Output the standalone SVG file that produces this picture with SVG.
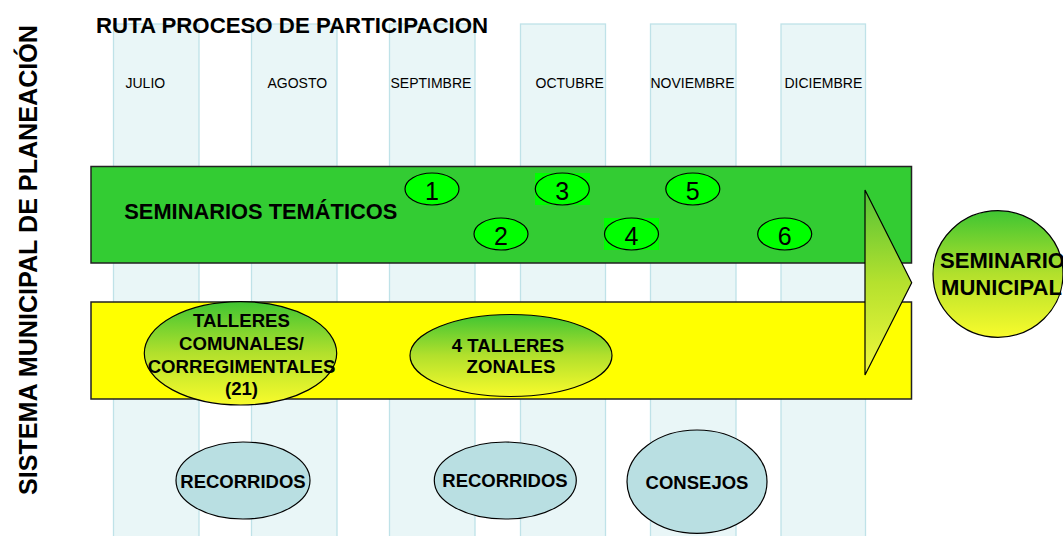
<svg xmlns="http://www.w3.org/2000/svg" width="1063" height="536" viewBox="0 0 1063 536">
<defs>
<linearGradient id="gy" x1="0" y1="0" x2="0" y2="1">
<stop offset="0" stop-color="#3fc532"/>
<stop offset="0.5" stop-color="#b2e02c"/>
<stop offset="1" stop-color="#f8fb2c"/>
</linearGradient>
<linearGradient id="gyArrow" x1="0" y1="0" x2="0" y2="1">
<stop offset="0" stop-color="#52c236"/>
<stop offset="0.5" stop-color="#b5e12e"/>
<stop offset="1" stop-color="#f2f83a"/>
</linearGradient>
</defs>
<style>
.col{fill:#e9f6f7;stroke:#bfe2e8;stroke-width:1.3}
.mon{font-family:"Liberation Sans",Arial,sans-serif;font-size:14px;fill:#000}
.b{font-family:"Liberation Sans",Arial,sans-serif;font-weight:bold;fill:#000}
.num{font-family:"Liberation Sans",Arial,sans-serif;font-size:25px;fill:#000;text-anchor:middle}
.ne{fill:#00ff00;stroke:#000;stroke-width:1.2}
.sq{fill:#00ff00}
.bar{stroke:#222;stroke-width:1.5}
.ge{fill:url(#gy);stroke:#000;stroke-width:1.2}
.be{fill:#b9dfe2;stroke:#000;stroke-width:1.2}
.c{text-anchor:middle}
</style>
<rect width="1063" height="536" fill="#fff"/>
<g id="columns">
<rect class="col" x="113.5" y="24" width="85.5" height="520"/>
<rect class="col" x="251.5" y="24" width="85.5" height="520"/>
<rect class="col" x="389.5" y="24" width="85.5" height="520"/>
<rect class="col" x="520.5" y="24" width="85" height="520"/>
<rect class="col" x="650.5" y="24" width="85.5" height="520"/>
<rect class="col" x="781" y="24" width="84.5" height="520"/>
</g>
<g id="labels">
<text class="b" x="96" y="32.5" font-size="21.8" textLength="392" lengthAdjust="spacingAndGlyphs">RUTA PROCESO DE PARTICIPACION</text>
<text class="b" transform="translate(37,495) rotate(-90)" font-size="25" textLength="470" lengthAdjust="spacingAndGlyphs">SISTEMA MUNICIPAL DE PLANEACIÓN</text>
<text class="mon" x="125.5" y="88.3">JULIO</text>
<text class="mon" x="267.5" y="88.3">AGOSTO</text>
<text class="mon" x="390.5" y="88.3">SEPTIMBRE</text>
<text class="mon" x="535.5" y="88.3">OCTUBRE</text>
<text class="mon" x="650.5" y="88.3">NOVIEMBRE</text>
<text class="mon" x="784.5" y="88.3">DICIEMBRE</text>
</g>
<g id="seminarios-tematicos">
<rect class="bar" x="91" y="166.5" width="820.5" height="96.5" fill="#33cc33"/>
<text class="b" x="124.3" y="219.3" font-size="21.8" textLength="273" lengthAdjust="spacingAndGlyphs">SEMINARIOS TEMÁTICOS</text>
</g>
<g id="talleres-bar">
<rect class="bar" x="91" y="302" width="820.5" height="97" fill="#ffff00"/>
</g>
<g id="sem1"><ellipse class="ne" cx="432" cy="189" rx="27" ry="16"/><text class="num" x="432" y="200">1</text></g>
<g id="sem2"><ellipse class="ne" cx="501" cy="234" rx="27" ry="16"/><text class="num" x="501" y="245">2</text></g>
<g id="sem3"><rect class="sq" x="535" y="173" width="55" height="32"/><ellipse class="ne" cx="562.3" cy="189" rx="27" ry="16"/><text class="num" x="562.3" y="200">3</text></g>
<g id="sem4"><rect class="sq" x="604" y="218" width="55" height="32"/><ellipse class="ne" cx="631.5" cy="234" rx="27" ry="16"/><text class="num" x="631.5" y="245">4</text></g>
<g id="sem5"><ellipse class="ne" cx="692.8" cy="189" rx="27" ry="16"/><text class="num" x="692.8" y="200">5</text></g>
<g id="sem6"><ellipse class="ne" cx="784.7" cy="234" rx="27" ry="16"/><text class="num" x="784.7" y="245">6</text></g>
<g id="talleres-comunales">
<ellipse class="ge" cx="240.5" cy="353.3" rx="96.2" ry="51.7"/>
<text class="b c" x="241.5" y="326.7" font-size="18.6">TALLERES</text>
<text class="b c" x="241.5" y="350" font-size="18.6">COMUNALES/</text>
<text class="b c" x="241.5" y="372.7" font-size="18.6">CORREGIMENTALES</text>
<text class="b c" x="241.5" y="395" font-size="18.6">(21)</text>
</g>
<g id="talleres-zonales">
<ellipse class="ge" cx="511" cy="355.5" rx="101" ry="41"/>
<text class="b c" x="508" y="351.7" font-size="18.6">4 TALLERES</text>
<text class="b c" x="511" y="373.3" font-size="18.6">ZONALES</text>
</g>
<g id="connectors">
<polygon points="865,190 911.7,282.7 865,375" fill="url(#gyArrow)" stroke="#000" stroke-width="1.2"/>
</g>
<g id="seminario-municipal">
<ellipse class="ge" cx="998" cy="274" rx="65" ry="63.3"/>
<text class="b" x="940" y="268.3" font-size="21.5" textLength="125" lengthAdjust="spacingAndGlyphs">SEMINARIO</text>
<text class="b" x="941" y="295" font-size="21.5" textLength="121" lengthAdjust="spacingAndGlyphs">MUNICIPAL</text>
</g>
<g id="recorridos1">
<ellipse class="be" cx="243" cy="480.5" rx="67" ry="38.5"/>
<text class="b c" x="243" y="487.7" font-size="18.5">RECORRIDOS</text>
</g>
<g id="recorridos2">
<ellipse class="be" cx="505.3" cy="480.5" rx="71" ry="38.5"/>
<text class="b c" x="505" y="487" font-size="18.5">RECORRIDOS</text>
</g>
<g id="consejos">
<ellipse class="be" cx="697" cy="481.7" rx="70" ry="51.7"/>
<text class="b c" x="697" y="489.3" font-size="18.5">CONSEJOS</text>
</g>
</svg>
